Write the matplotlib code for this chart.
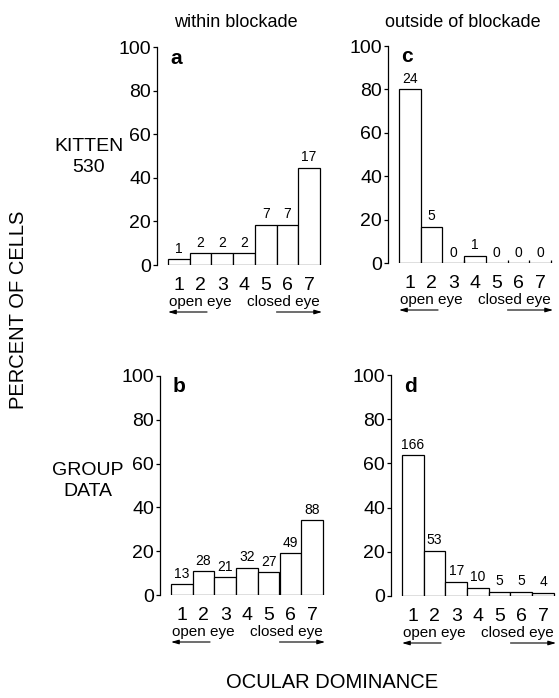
import matplotlib
matplotlib.use("Agg")
import matplotlib.pyplot as plt
from matplotlib.transforms import blended_transform_factory

plt.rcParams['font.family'] = ['Liberation Sans', 'DejaVu Sans']

# ---- data ----
categories = [1, 2, 3, 4, 5, 6, 7]
yticks = [0, 20, 40, 60, 80, 100]

pct_a = [2.6, 5.3, 5.3, 5.3, 18.4, 18.4, 44.7]
cnt_a = [1, 2, 2, 2, 7, 7, 17]
pct_c = [80.0, 16.7, 0, 3.3, 0, 0, 0]
cnt_c = [24, 5, 0, 1, 0, 0, 0]
pct_b = [5.0, 10.9, 8.1, 12.4, 10.5, 19.0, 34.1]
cnt_b = [13, 28, 21, 32, 27, 49, 88]
pct_d = [63.8, 20.4, 6.5, 3.8, 1.9, 1.9, 1.5]
cnt_d = [166, 53, 17, 10, 5, 5, 4]

col_titles = ["within blockade", "outside of blockade"]
row_titles = ["KITTEN\n530", "GROUP\nDATA"]
panel_letters = ["a", "c", "b", "d"]

W, H = 559, 698
fig = plt.figure(figsize=(W / 100, H / 100), dpi=100)

def fx(x):
    return x / W

def fy(y):
    return 1 - y / H

# axes geometry in pixels: (left, baseline y, top y)
unit = 21.7
xlo, xhi = 0.0, 7.6
geo = [
    (168 - 0.5 * unit, 265, 47),   # a
    (399 - 0.5 * unit, 263, 46),   # c
    (171 - 0.5 * unit, 595, 376),  # b
    (402 - 0.5 * unit, 596, 375),  # d
]
panels = [(pct_a, cnt_a), (pct_c, cnt_c), (pct_b, cnt_b), (pct_d, cnt_d)]

for (left, base, top), (pct, cnt), letter in zip(geo, panels, panel_letters):
    w = (xhi - xlo) * unit
    ax = fig.add_axes([fx(left), fy(base), w / W, (base - top) / H])
    ax.set_xlim(xlo, xhi)
    ax.set_ylim(0, 100)
    ax.bar(categories, pct, width=1.0, facecolor="white", edgecolor="black",
           linewidth=0.9, zorder=2)
    for x, p, c in zip(categories, pct, cnt):
        if p == 0:
            ax.plot([x + 0.5, x + 0.5], [0, 1.5], color="black", lw=0.9,
                    solid_capstyle="butt", zorder=3)
        ax.annotate(str(c), xy=(x, p), xytext=(0, 2.5), textcoords="offset points",
                    ha="center", va="bottom", fontsize=10)
    for s in ["top", "right", "bottom"]:
        ax.spines[s].set_visible(False)
    ax.spines["left"].set_linewidth(0.9)
    ax.set_yticks(yticks)
    ax.set_yticklabels([str(t) for t in yticks], fontsize=14)
    ax.tick_params(axis="y", direction="out", length=3, width=0.9, pad=1.5)
    ax.set_xticks(categories)
    ax.set_xticklabels([str(c) for c in categories], fontsize=14)
    ax.tick_params(axis="x", length=0, pad=8.5)
    ax.patch.set_alpha(0)

    tr = blended_transform_factory(ax.transData, ax.transAxes)
    ax.annotate("open eye", xy=(2.0, 0), xycoords=tr, xytext=(0, -26.6),
                textcoords="offset points", ha="center", va="center", fontsize=11,
                annotation_clip=False)
    ax.annotate("closed eye", xy=(5.8, 0), xycoords=tr, xytext=(0, -26.6),
                textcoords="offset points", ha="center", va="center", fontsize=11,
                annotation_clip=False)
    # arrows
    ax.annotate("", xy=(0.5, 0), xycoords=tr, xytext=(0, -33.8),
                textcoords="offset points", annotation_clip=False,
                arrowprops=dict(arrowstyle="-", lw=0, alpha=0))
    y_ar = -47 / (base - top)
    ax.annotate("", xy=(0.5, y_ar), xycoords=tr, xytext=(2.3, y_ar), textcoords=tr,
                annotation_clip=False,
                arrowprops=dict(arrowstyle="-|>,head_length=0.45,head_width=0.13",
                                lw=0.8, color="black", shrinkA=0, shrinkB=0))
    ax.annotate("", xy=(7.6, y_ar), xycoords=tr, xytext=(5.5, y_ar), textcoords=tr,
                annotation_clip=False,
                arrowprops=dict(arrowstyle="-|>,head_length=0.45,head_width=0.13",
                                lw=0.8, color="black", shrinkA=0, shrinkB=0))

    # panel letter
    fig.text(fx(left + 0.5 * unit + 2), fy(top + 11), letter, fontsize=15,
             fontweight="bold", ha="left", va="center")

# column titles
fig.text(fx(236), fy(27), col_titles[0], fontsize=13, ha="center", va="baseline")
fig.text(fx(463), fy(27), col_titles[1], fontsize=13, ha="center", va="baseline")

# row titles
fig.text(fx(89), fy(157), row_titles[0], fontsize=14, ha="center", va="center",
         linespacing=1.25)
fig.text(fx(88), fy(481), row_titles[1], fontsize=14, ha="center", va="center",
         linespacing=1.25)

# axis labels
fig.text(fx(19), fy(310), "PERCENT OF CELLS", fontsize=14.5, rotation=90,
         ha="center", va="center")
fig.text(fx(332), fy(683), "OCULAR DOMINANCE", fontsize=14.5, ha="center",
         va="center")

fig.savefig("out.png", dpi=100)
